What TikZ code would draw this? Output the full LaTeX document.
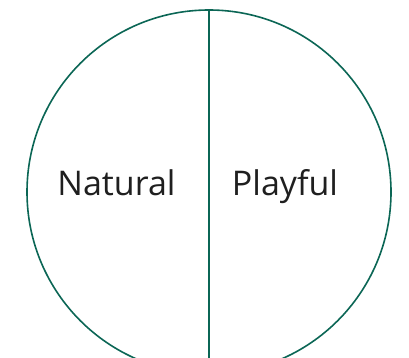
\documentclass[tikz,border=0pt]{standalone}
\usepackage{fontspec}
\setmainfont{Open Sans}
\usetikzlibrary{positioning}
\definecolor{pinegreen}{HTML}{0B6655}

\begin{document}
\begin{tikzpicture}[
    x=1pt,y=-1pt,
    rim/.style={draw=pinegreen,line width=1.6pt},
    half/.style={font=\fontsize{34}{38}\selectfont,text=black!88,anchor=base}]
% ===== page frame =====
\useasboundingbox (0,0) rectangle (409,358);
% ===== the split circle =====
\node[rim,circle,minimum size=364pt,inner sep=0pt] (disc) at (209,192) {};
\draw[rim] (disc.north) -- (disc.south);
% ===== the two halves =====
\node[half] (natural) at (116.5,195) {Natural};
\node[half] (playful) at (285,195) {Playful};
\end{tikzpicture}
\end{document}
